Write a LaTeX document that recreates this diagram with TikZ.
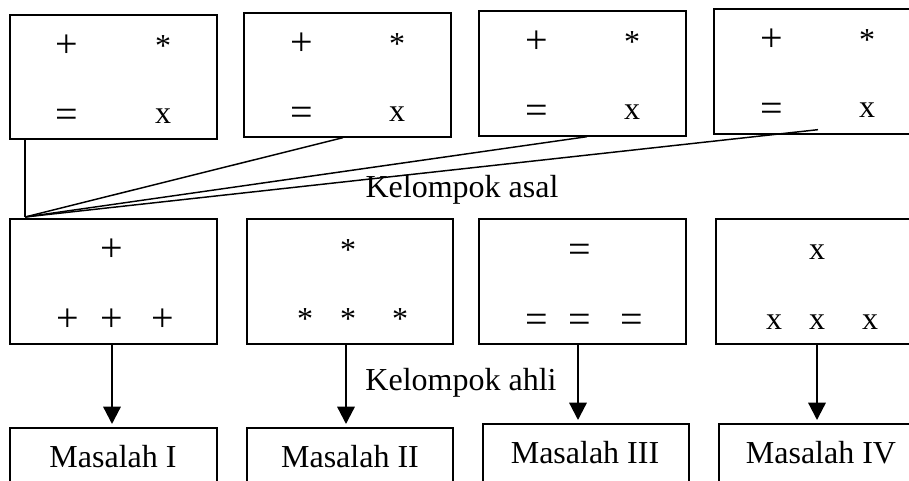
\documentclass[tikz,border=0pt]{standalone}
\usepackage{fontspec}
\setmainfont{Liberation Serif}
\usetikzlibrary{fit,calc,arrows.meta}
\tikzset{
  box/.style={draw, line width=1pt, inner sep=0pt, fit={#1}},
  sym/.style={anchor=base, inner sep=0pt, font=\fontsize{24}{28}\selectfont},
  big/.style={anchor=base, inner sep=0pt, font=\fontsize{30}{34}\selectfont},
  lbl/.style={anchor=base, inner sep=0pt, font=\fontsize{24}{28}\selectfont},
  fan/.style={line width=1.1pt},
  arr/.style={line width=1.7pt, -{Triangle[length=13pt,width=13pt]}, shorten >=2.5pt}
}
\begin{document}
\begin{tikzpicture}[x=0.75pt,y=-0.75pt]
\useasboundingbox (0,0) rectangle (909,480);
\clip (0,0) rectangle (909,480);
% top row (Kelompok asal)
\node[box={(10,15) (217,139)}] (t1) {};
\node[box={(244,13) (451,137)}] (t2) {};
\node[box={(479,11) (686,136)}] (t3) {};
\node[box={(714,9) (922,134)}] (t4) {};
\node[big] (t1a) at (67,57) {+};
\node[sym] (t1b) at (163,56) {*};
\node[big] (t1c) at (67,127) {=};
\node[sym] (t1d) at (163,123) {x};
\node[big] (t2a) at (302,55) {+};
\node[sym] (t2b) at (397,54) {*};
\node[big] (t2c) at (302,125) {=};
\node[sym] (t2d) at (397,121) {x};
\node[big] (t3a) at (537,53) {+};
\node[sym] (t3b) at (632,52) {*};
\node[big] (t3c) at (537,123) {=};
\node[sym] (t3d) at (632,119) {x};
\node[big] (t4a) at (772,51) {+};
\node[sym] (t4b) at (867,50) {*};
\node[big] (t4c) at (772,121) {=};
\node[sym] (t4d) at (867,117) {x};
% fan lines
\coordinate (hub) at (25,217);
\draw[fan] (hub |- t1.south) -- (hub);
\draw[fan] ($(t2.south)+(-4.5,0)$) -- (hub);
\draw[fan] ($(t3.south)+(4.5,0)$) -- (hub);
\draw[fan] ($(t4.south)+(0,-5)$) -- (hub);
\node[lbl] (asal) at (462,197) {Kelompok asal};
% middle row (Kelompok ahli)
\node[box={(10,219) (217,344)}] (m1) {};
\node[box={(247,219) (453,344)}] (m2) {};
\node[box={(479,219) (686,344)}] (m3) {};
\node[box={(716,219) (922,344)}] (m4) {};
\node[big] (m1a) at (112,261) {+};
\node[big] (m1b) at (68,331) {+};
\node[big] (m1c) at (112,331) {+};
\node[big] (m1d) at (163,331) {+};
\node[sym] (m2a) at (348,260) {*};
\node[sym] (m2b) at (305,329) {*};
\node[sym] (m2c) at (348,329) {*};
\node[sym] (m2d) at (400,329) {*};
\node[big] (m3a) at (580,262) {=};
\node[big] (m3b) at (537,332) {=};
\node[big] (m3c) at (580,332) {=};
\node[big] (m3d) at (632,332) {=};
\node[sym] (m4a) at (817,259) {x};
\node[sym] (m4b) at (774,329) {x};
\node[sym] (m4c) at (817,329) {x};
\node[sym] (m4d) at (870,329) {x};
\node[lbl] (ahli) at (461,390) {Kelompok ahli};
% bottom row
\node[box={(10,428) (217,500)}] (b1) {};
\node[box={(247,428) (453,500)}] (b2) {};
\node[box={(483,424) (689,500)}] (b3) {};
\node[box={(719,424) (927,500)}] (b4) {};
\node[lbl] (b1t) at (113,467) {Masalah I};
\node[lbl] (b2t) at (350,467) {Masalah II};
\node[lbl] (b3t) at (585,463) {Masalah III};
\node[lbl] (b4t) at (821,463) {Masalah IV};
% arrows
\coordinate (a1) at ($(m1.south)+(-1.5,0)$);
\coordinate (a2) at ($(m2.south)+(-4,0)$);
\coordinate (a3) at ($(m3.south)+(-4.5,0)$);
\coordinate (a4) at ($(m4.south)+(-2,0)$);
\draw[arr] (a1) -- (a1 |- b1.north);
\draw[arr] (a2) -- (a2 |- b2.north);
\draw[arr] (a3) -- (a3 |- b3.north);
\draw[arr] (a4) -- (a4 |- b4.north);
\end{tikzpicture}
\end{document}
